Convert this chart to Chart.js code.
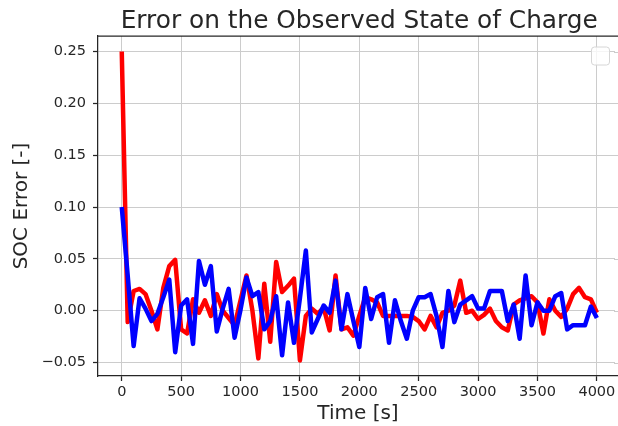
<!DOCTYPE html>
<html>
<head>
<meta charset="utf-8">
<script src="https://cdn.jsdelivr.net/npm/chart.js@4.4.0/dist/chart.umd.min.js"></script>
<style>
  html, body { margin: 0; padding: 0; background: #fff; overflow: hidden; }
</style>
</head>
<body>
<canvas id="socChart" width="618" height="426"></canvas>
<script>
// time axis [s]
var timeSec = [0, 50, 100, 150, 200, 250, 300, 350, 400, 450,
    500, 550, 600, 650, 700, 750, 800, 850, 900, 950,
    1000, 1050, 1100, 1150, 1200, 1250, 1300, 1350, 1400, 1450,
    1500, 1550, 1600, 1650, 1700, 1750, 1800, 1850, 1900, 1950,
    2000, 2050, 2100, 2150, 2200, 2250, 2300, 2350, 2400, 2450,
    2500, 2550, 2600, 2650, 2700, 2750, 2800, 2850, 2900, 2950,
    3000, 3050, 3100, 3150, 3200, 3250, 3300, 3350, 3400, 3450,
    3500, 3550, 3600, 3650, 3700, 3750, 3800, 3850, 3900, 3950, 4000];

// SOC error, red series
var errRed = [0.250, -0.011, 0.019, 0.021, 0.016, 0.000, -0.018, 0.022, 0.043, 0.049,
    -0.018, -0.022, 0.011, -0.002, 0.010, -0.005, 0.016, 0.000, -0.007, -0.014,
    0.010, 0.034, 0.000, -0.046, 0.026, -0.030, 0.047, 0.018, 0.024, 0.031,
    -0.048, -0.005, 0.002, -0.003, 0.003, -0.019, 0.034, -0.018, -0.016, -0.024,
    -0.005, 0.013, 0.011, 0.008, -0.005, -0.005, -0.005, -0.005, -0.005, -0.006,
    -0.010, -0.018, -0.005, -0.016, -0.002, 0.000, 0.005, 0.029, -0.002, 0.000,
    -0.008, -0.004, 0.002, -0.010, -0.016, -0.019, 0.006, 0.010, 0.012, 0.014,
    0.008, -0.022, 0.011, 0.000, -0.006, 0.002, 0.016, 0.022, 0.013, 0.011, -0.002];

// SOC error, blue series
var errBlue = [0.100, 0.034, -0.034, 0.012, 0.002, -0.010, -0.003, 0.013, 0.030, -0.040,
    0.005, 0.011, -0.032, 0.048, 0.025, 0.043, -0.020, 0.002, 0.021, -0.026,
    0.001, 0.032, 0.014, 0.018, -0.018, -0.010, 0.014, -0.043, 0.008, -0.031,
    0.012, 0.058, -0.021, -0.008, 0.005, -0.002, 0.029, -0.018, 0.016, -0.010,
    -0.035, 0.022, -0.008, 0.013, 0.016, -0.031, 0.010, -0.010, -0.027, 0.000,
    0.013, 0.013, 0.016, -0.005, -0.035, 0.019, -0.011, 0.006, 0.010, 0.014,
    0.002, 0.002, 0.019, 0.019, 0.019, -0.010, 0.006, -0.027, 0.034, -0.014,
    0.008, 0.000, 0.000, 0.014, 0.017, -0.018, -0.014, -0.014, -0.014, 0.004, -0.007];

var xTicks = [0, 500, 1000, 1500, 2000, 2500, 3000, 3500, 4000];
var yTicks = [-0.05, 0, 0.05, 0.10, 0.15, 0.20, 0.25];

var INK = '#262626';
var GRID = '#cccccc';
var FONT = 'DejaVu Sans';
var AXES_RIGHT = 620.5; // the original axes box ends just past the picture edge

function toPoints(ys) {
    var pts = [];
    for (var i = 0; i < ys.length; i++) {
        pts.push({ x: timeSec[i], y: ys[i] });
    }
    return pts;
}

// title, top spine and the (empty) legend box
var decorations = {
    id: 'decorations',
    afterDraw: function (chart) {
        var ctx = chart.ctx;
        var a = chart.chartArea;
        var yScale = chart.scales.y;
        ctx.save();

        // the axes box is cut off at the picture edge: no right spine visible
        ctx.fillStyle = '#ffffff';
        ctx.fillRect(a.right - 3, a.top + 1, chart.width - a.right + 3, a.bottom - a.top - 2);
        ctx.strokeStyle = GRID;
        ctx.lineWidth = 1;
        yTicks.forEach(function (v) {
            var py = Math.round(yScale.getPixelForValue(v)) + 0.5;
            ctx.beginPath();
            ctx.moveTo(a.right - 4, py);
            ctx.lineTo(chart.width, py);
            ctx.stroke();
        });

        ctx.strokeStyle = INK;
        ctx.lineWidth = 1.25;
        ctx.beginPath();
        ctx.moveTo(a.left, a.top);
        ctx.lineTo(chart.width, a.top);
        ctx.stroke();

        ctx.fillStyle = INK;
        ctx.font = '24.8px "' + FONT + '"';
        ctx.textAlign = 'center';
        ctx.textBaseline = 'alphabetic';
        ctx.fillText('Error on the Observed State of Charge', (a.left + AXES_RIGHT) / 2, 28);

        ctx.beginPath();
        ctx.roundRect(AXES_RIGHT - 29, a.top + 11, 18, 18, 3);
        ctx.fillStyle = 'rgba(255,255,255,0.8)';
        ctx.fill();
        ctx.strokeStyle = '#d6d6d6';
        ctx.lineWidth = 1;
        ctx.stroke();
        ctx.restore();
    }
};

var ctxSoc = document.getElementById('socChart');
var socChart = new Chart(ctxSoc, {
    type: 'line',
    data: {
        datasets: [{
            data: toPoints(errRed),
            borderColor: '#ff0000',
            borderWidth: 4.5,
            borderJoinStyle: 'round',
            pointRadius: 0,
            tension: 0,
            order: 1
        }, {
            data: toPoints(errBlue),
            borderColor: '#0000ff',
            borderWidth: 4.5,
            borderJoinStyle: 'round',
            pointRadius: 0,
            tension: 0,
            order: 0
        }]
    },
    options: {
        responsive: false,
        animation: false,
        devicePixelRatio: 1,
        layout: { padding: { top: 36, left: 0, right: 0, bottom: 0 } },
        plugins: {
            legend: { display: false },
            tooltip: { enabled: false }
        },
        scales: {
            x: {
                type: 'linear',
                min: -200,
                max: 4178,
                afterBuildTicks: function (axis) {
                    axis.ticks = xTicks.map(function (v) { return { value: v }; });
                },
                afterFit: function (s) {
                    s.height = 50;
                    s.paddingLeft = 0;
                    s.paddingRight = 0;
                },
                ticks: {
                    color: INK,
                    font: { family: FONT, size: 14.5 },
                    padding: 3,
                    maxRotation: 0,
                    autoSkip: false,
                    callback: function (v) { return String(v); }
                },
                grid: { color: GRID, lineWidth: 1, tickColor: INK, tickLength: 5, tickWidth: 1.25 },
                border: { color: INK, width: 1.25 },
                title: {
                    display: true,
                    text: 'Time [s]',
                    color: INK,
                    font: { family: FONT, size: 20 },
                    padding: { top: 0, bottom: 0 }
                }
            },
            y: {
                type: 'linear',
                min: -0.063,
                max: 0.265,
                afterBuildTicks: function (axis) {
                    axis.ticks = yTicks.map(function (v) { return { value: v }; });
                },
                afterFit: function (s) { s.width = 98; },
                ticks: {
                    color: INK,
                    font: { family: FONT, size: 14.5 },
                    padding: 7,
                    autoSkip: false,
                    callback: function (v) {
                        return (v < 0 ? '\u2212' : '') + Math.abs(v).toFixed(2);
                    }
                },
                grid: { color: GRID, lineWidth: 1, tickColor: INK, tickLength: 5, tickWidth: 1.25 },
                border: { color: INK, width: 1.25 },
                title: {
                    display: true,
                    text: 'SOC Error [-]',
                    color: INK,
                    font: { family: FONT, size: 20 },
                    padding: { top: 10, bottom: 0 }
                }
            }
        }
    },
    plugins: [decorations]
});
</script>
</body>
</html>
